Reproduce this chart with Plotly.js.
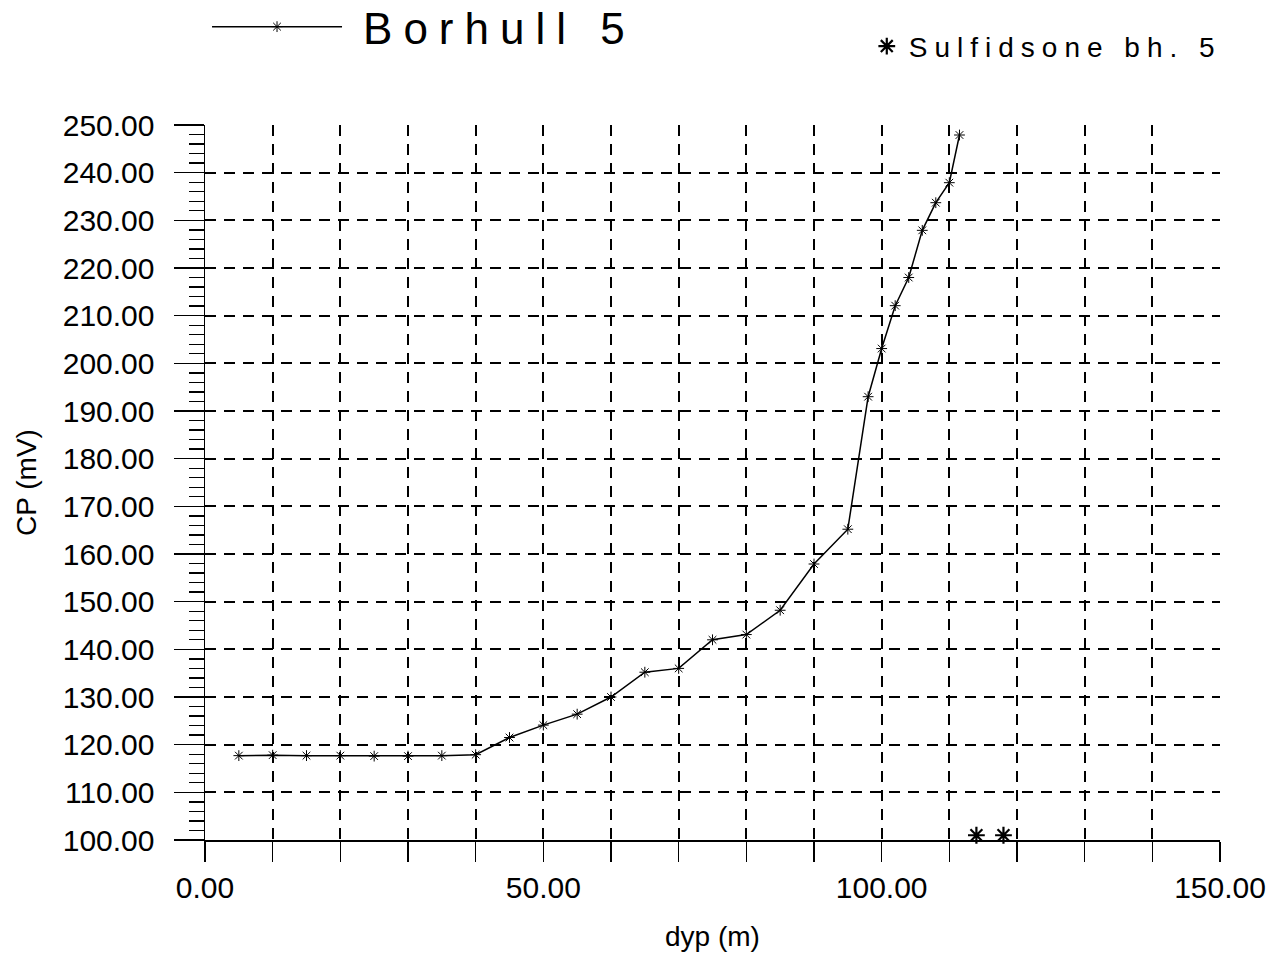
<!DOCTYPE html>
<html>
<head>
<meta charset="utf-8">
<script src="https://cdn.plot.ly/plotly-3.0.1.min.js"></script>
<style>
html, body { margin: 0; padding: 0; background: #fff; }
#chart { width: 1282px; height: 960px; }
/* plotter-style wide letter spacing on the legend labels */
#chart text[data-unformatted^="Borhull"] { letter-spacing: 11px; transform: translateX(16px); }
#chart text[data-unformatted^="Sulfidsone"] { letter-spacing: 7px; transform: translateX(2px); }
/* let the wider labels overflow their legend boxes */
#chart .infolayer [clip-path] { clip-path: none !important; }
</style>
</head>
<body>
<div id="chart"></div>
<script>
// Borehole 5: depth (m) vs CP (mV)
const depth = [5, 10, 15, 20, 25, 30, 35, 40, 45, 50, 55, 60, 65, 70, 75, 80, 85, 90, 95, 98, 100, 102, 104, 106, 108, 110, 111.5];
const cp = [117.7, 117.8, 117.7, 117.7, 117.6, 117.6, 117.7, 117.9, 121.5, 124.1, 126.4, 130.0, 135.2, 136.0, 142.0, 143.1, 148.2, 157.9, 165.2, 193.0, 203.1, 212.1, 218.0, 227.9, 233.7, 237.9, 247.9];

// Sulfide zone markers
const sulfDepth = [114, 118];
const sulfCp = [101, 101];

const seriesName = 'Borhull 5';
const sulfName = 'Sulfidsone bh. 5';

const xTickVals = [0, 10, 20, 30, 40, 50, 60, 70, 80, 90, 100, 110, 120, 130, 140, 150];
const xTickText = ['0.00', '', '', '', '', '50.00', '', '', '', '', '100.00', '', '', '', '', '150.00'];
const yTickVals = [100, 110, 120, 130, 140, 150, 160, 170, 180, 190, 200, 210, 220, 230, 240, 250];
const yTickText = ['100.00', '110.00', '120.00', '130.00', '140.00', '150.00', '160.00', '170.00', '180.00', '190.00', '200.00', '210.00', '220.00', '230.00', '240.00', '250.00'];

const FONT = 'Liberation Sans, Arial, sans-serif';

const traces = [
  {
    x: depth, y: cp, name: seriesName, type: 'scatter', mode: 'lines+markers',
    line: { color: '#000', width: 1.5 },
    marker: { symbol: 'asterisk-open', size: 9, color: '#000', line: { color: '#000', width: 1 } },
    legend: 'legend', cliponaxis: false
  },
  {
    x: sulfDepth, y: sulfCp, name: sulfName, type: 'scatter', mode: 'markers',
    marker: { symbol: 'asterisk-open', size: 14, color: '#000', line: { color: '#000', width: 2.2 } },
    legend: 'legend2', cliponaxis: false
  }
];

const layout = {
  width: 1282, height: 960,
  paper_bgcolor: '#fff', plot_bgcolor: '#fff',
  margin: { l: 205, r: 62, t: 125, b: 120, autoexpand: false },
  font: { family: FONT, color: '#000' },
  showlegend: true,
  legend: {
    x: 0.002, xanchor: 'left', y: 1.137, yanchor: 'middle',
    font: { size: 44, family: FONT, color: '#000' },
    itemwidth: 130, bgcolor: 'rgba(0,0,0,0)', borderwidth: 0
  },
  legend2: {
    x: 0.652, xanchor: 'left', y: 1.11, yanchor: 'middle',
    font: { size: 28, family: FONT, color: '#000' },
    itemwidth: 30, bgcolor: 'rgba(0,0,0,0)', borderwidth: 0
  },
  xaxis: {
    range: [0, 150], autorange: false,
    tickmode: 'array', tickvals: xTickVals, ticktext: xTickText,
    ticks: 'outside', ticklen: 20, tickwidth: 1.5, tickcolor: '#000',
    ticklabelstandoff: 0,
    tickfont: { size: 30, family: FONT, color: '#000' },
    showline: true, linecolor: '#000', linewidth: 1.5,
    showgrid: true, gridcolor: '#000', gridwidth: 1.8, griddash: '11px,8px',
    zeroline: false,
    title: { text: 'dyp (m)', font: { size: 28, family: FONT, color: '#000' }, standoff: 24 }
  },
  yaxis: {
    range: [100, 250], autorange: false,
    tickmode: 'array', tickvals: yTickVals, ticktext: yTickText,
    ticks: 'outside', ticklen: 30, tickwidth: 1.5, tickcolor: '#000',
    ticklabelstandoff: 13,
    tickfont: { size: 30, family: FONT, color: '#000' },
    minor: { dtick: 2, tick0: 100, ticks: 'outside', ticklen: 15, tickwidth: 1.3, tickcolor: '#000', showgrid: false },
    showline: true, linecolor: '#000', linewidth: 1.5,
    showgrid: true, gridcolor: '#000', gridwidth: 1.8, griddash: '11px,8px',
    zeroline: false,
    title: { text: 'CP (mV)', font: { size: 28, family: FONT, color: '#000' }, standoff: 18 }
  }
};

Plotly.newPlot('chart', traces, layout, { staticPlot: true, displayModeBar: false });
</script>
</body>
</html>
